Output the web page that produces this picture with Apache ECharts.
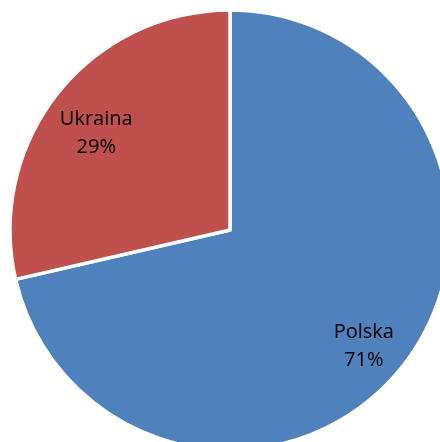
<!DOCTYPE html>
<html>
<head>
<meta charset="utf-8">
<script src="https://cdn.jsdelivr.net/npm/echarts@6/dist/echarts.min.js"></script>
<style>
html,body{margin:0;padding:0;background:#fff;}
#chart{width:440px;height:442px;}
</style>
</head>
<body>
<div id="chart"></div>
<script>
var categories = ['Polska', 'Ukraina'];
var values = [71.4, 28.6];
var colors = ['#4F81BD', '#C0504D'];

var data = categories.map(function (c, i) { return { name: c, value: values[i] }; });

var chart = echarts.init(document.getElementById('chart'));
chart.setOption({
  animation: false,
  backgroundColor: '#ffffff',
  series: [
    {
      type: 'pie',
      center: [230, 230],
      radius: [0, 220],
      startAngle: 90,
      clockwise: true,
      silent: true,
      data: data.map(function (d, i) {
        return { name: d.name, value: d.value, itemStyle: { color: colors[i] } };
      }),
      itemStyle: { borderColor: '#ffffff', borderWidth: 3.5 },
      label: { show: false },
      labelLine: { show: false }
    },
    {
      type: 'pie',
      center: [230, 230],
      radius: [150, 186],
      startAngle: 90,
      clockwise: true,
      silent: true,
      data: data,
      itemStyle: { color: 'rgba(0,0,0,0)' },
      label: {
        show: true,
        position: 'inside',
        offset: [0, 10],
        color: '#000000',
        fontFamily: 'Open Sans',
        fontSize: 20,
        lineHeight: 28,
        formatter: function (p) { return p.name + '\n' + Math.round(p.percent) + '%'; }
      },
      labelLine: { show: false }
    }
  ]
});
</script>
</body>
</html>
